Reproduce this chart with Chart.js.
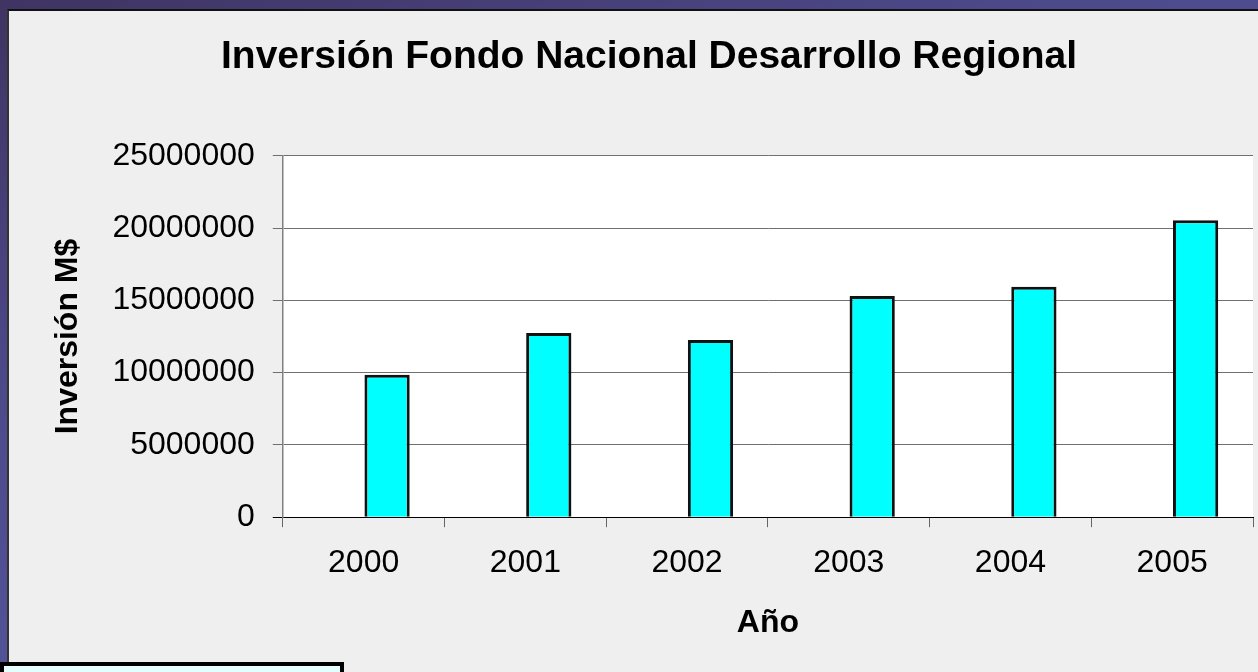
<!DOCTYPE html>
<html lang="es">
<head>
<meta charset="UTF-8">
<script src="https://cdn.jsdelivr.net/npm/chart.js"></script>
<title>Inversión FNDR</title>
<style>
    html, body { margin: 0; padding: 0; width: 1258px; height: 672px; overflow: hidden; }
    body {
        background: linear-gradient(160deg, #3f3462 0%, #4d4a8c 35%, #5a60aa 100%);
        position: relative;
    }
    .panel {
        position: absolute; left: 7px; top: 9px; width: 1290px; height: 700px;
        background: #efefef; border-top: 2px solid #111; border-left: 2px solid #333;
    }
    .grafico { position: absolute; left: 10px; top: 12px; width: 1274px; height: 660px; }
    .nota {
        position: absolute; left: 0; top: 662px; width: 336px; height: 30px;
        background: #e4ffff; border: 4px solid #000;
    }
</style>
</head>
<body>
    <div class="panel"></div>
    <div class="grafico"><canvas id="grafico"></canvas></div>
    <div class="nota"></div>
<script>
    // datos
    var anios = ['2000', '2001', '2002', '2003', '2004', '2005'];
    var inversion = [9850000, 12750000, 12250000, 15300000, 15950000, 20550000];
    var serieVacia = [null, null, null, null, null, null];
    var ticksY = [0, 5000000, 10000000, 15000000, 20000000, 25000000];

    var fuente = "'Liberation Sans', Arial, sans-serif";

    // fondo blanco del area de trazado
    var fondoArea = {
        id: 'fondoArea',
        beforeDraw(chart) {
            var a = chart.chartArea;
            var c = chart.ctx;
            c.save();
            c.fillStyle = '#ffffff';
            c.fillRect(a.left, a.top, a.right - a.left, a.bottom - a.top);
            c.restore();
        }
    };

    const ctx = document.getElementById('grafico');

    var grafico = new Chart(ctx, {
        type: 'bar',
        data: {
            labels: anios,
            datasets: [{
                label: 'Serie1',
                data: serieVacia,
                backgroundColor: '#00ffff'
            }, {
                label: 'Inversión',
                data: inversion,
                backgroundColor: '#00ffff',
                borderColor: '#111111',
                borderWidth: 3
            }]
        },
        options: {
            responsive: true,
            maintainAspectRatio: false,
            animation: false,
            categoryPercentage: 0.58,
            barPercentage: 0.965,
            layout: { padding: { left: 35, right: 31, top: 0, bottom: 30 } },
            plugins: {
                legend: { display: false },
                tooltip: { enabled: false },
                title: {
                    display: true,
                    text: 'Inversión Fondo Nacional Desarrollo Regional',
                    color: '#000',
                    font: { family: fuente, size: 39, weight: 'bold' },
                    padding: { top: 22, bottom: 75 }
                }
            },
            scales: {
                x: {
                    grid: {
                        drawOnChartArea: false,
                        drawTicks: true,
                        tickLength: 10,
                        color: '#666666'
                    },
                    border: { color: '#000000', width: 1 },
                    ticks: {
                        color: '#000',
                        padding: 17,
                        font: { family: fuente, size: 32 }
                    },
                    title: {
                        display: true,
                        text: 'Año',
                        color: '#000',
                        font: { family: fuente, size: 32, weight: 'bold' },
                        padding: { top: 4, bottom: 0 }
                    }
                },
                y: {
                    min: 0,
                    max: 25000000,
                    afterBuildTicks: function (eje) {
                        eje.ticks = ticksY.map(v => ({ value: v }));
                    },
                    grid: {
                        tickLength: 10,
                        color: ctx => (ctx.tick && ctx.tick.value === 0) ? '#000000' : '#707070'
                    },
                    border: { color: '#808080', width: 1.5 },
                    ticks: {
                        color: '#000',
                        padding: 18,
                        font: { family: fuente, size: 32 },
                        callback: v => String(v)
                    },
                    title: {
                        display: true,
                        text: 'Inversión M$',
                        color: '#000',
                        font: { family: fuente, size: 32, weight: 'bold' },
                        padding: { top: 4, bottom: 7 }
                    }
                }
            }
        },
        plugins: [fondoArea]
    });
</script>
</body>
</html>
